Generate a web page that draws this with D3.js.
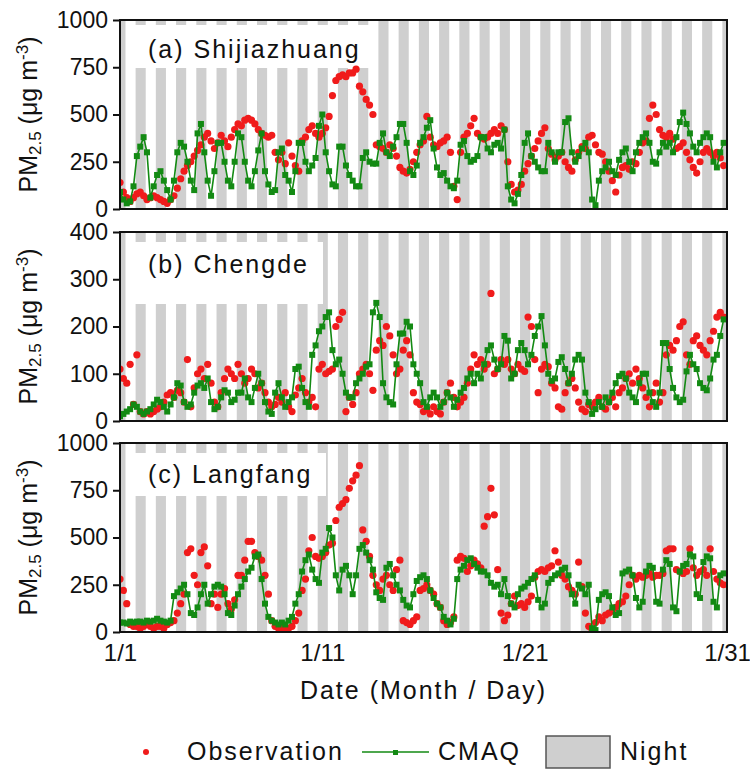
<!DOCTYPE html>
<html>
<head>
<meta charset="utf-8">
<script src="https://cdn.jsdelivr.net/npm/d3@7"></script>
<style>
  body { margin: 0; background: #fff; }
  text { font-family: Arial, "Liberation Sans", sans-serif; fill: #111; }
  .wide { font-size: 25px; letter-spacing: 2px; }
</style>
</head>
<body>
<div id="chart"></div>
<script>
// ---- data: 30 days of January, six readings per day (hours 0,4,8,12,16,20) ----
const hoursOfDay = [0, 4, 8, 12, 16, 20];
const nightStart = 18.5;   // local hour the night begins
const nightEnd = 6.5;      // local hour the night ends
const dateTicks = [0, 10, 20, 30];
const dateTickLabels = ["1/1", "1/11", "1/21", "1/31"];
const ticksShijiazhuang = [0, 250, 500, 750, 1000];
const ticksChengde = [0, 100, 200, 300, 400];
const ticksLangfang = [0, 250, 500, 750, 1000];

const obsShijiazhuang = [
  140, 90, 60, 40, 60, 80,   90, 70, 50, 60, 70, 60,   50, 40, 30, 50, 70, 110,
  160, 200, 230, 250, 280, 310,   340, 380, 400, 360, 320, 350,   390, 360, 330, 380, 420, 450,
  440, 470, 480, 470, 450, 420,   400, 390, 380, 390, 300, 260,   300, 240, 350, 280, 230, 200,
  360, 380, 420, 440, 400, 380,   400, 430, 490, 600, 680, 700,   710, 700, 720, 720, 740, 650,
  620, 580, 550, 500, 340, 330,   320, 300, 340, 320, 280, 220,   200, 190, 210, 250, 300, 340,
  360, 490, 380, 340, 330, 350,   360, 380, 300, 120, 50, 300,   380, 400, 440, 480, 400, 380,
  370, 380, 400, 420, 400, 440,   420, 250, 130, 90, 100, 130,   200, 240, 280, 320, 360, 400,
  430, 320, 290, 260, 280, 300,   250, 220, 200, 260, 300, 330,   320, 380, 390, 340, 300, 290,
  250, 200, 150, 90, 180, 220,   230, 210, 250, 240, 300, 350,   360, 480, 550, 500, 420, 390,
  380, 400, 370, 320, 330, 350,   300, 260, 220, 190, 250, 300,   320, 300, 280, 300, 270, 230
];
const cmaqShijiazhuang = [
  90, 50, 30, 40, 120, 280,   330, 380, 300, 60, 120, 180,   200, 150, 100, 50, 150, 300,
  350, 330, 250, 150, 100, 400,   450, 300, 150, 70, 200, 350,   350, 250, 150, 120, 250, 400,
  380, 250, 150, 120, 200, 310,   400, 200, 130, 90, 100, 300,   320, 180, 150, 90, 200, 350,
  350, 250, 200, 230, 270, 440,   500, 300, 200, 130, 120, 330,   330, 230, 180, 150, 120, 120,
  270, 300, 250, 240, 240, 350,   400, 300, 280, 330, 380, 450,   450, 350, 200, 180, 230, 350,
  380, 430, 470, 320, 220, 180,   190, 150, 120, 110, 150, 340,   360, 280, 250, 260, 280, 380,
  380, 320, 300, 340, 350, 320,   420, 120, 50, 30, 80, 180,   350, 400, 280, 250, 220, 200,
  200, 350, 300, 250, 300, 300,   460, 480, 300, 250, 280, 320,   350, 300, 50, 20, 150, 200,
  220, 250, 200, 180, 260, 300,   320, 250, 200, 300, 350, 380,   400, 350, 250, 240, 300, 350,
  330, 350, 300, 380, 460, 510,   450, 400, 330, 300, 350, 380,   400, 380, 250, 220, 300, 350
];
const obsChengde = [
  110, 90, 80, 120, 35, 140,   20, 15, 20, 15, 20, 25,   30, 40, 55, 60, 50, 65,
  60, 40, 130, 30, 70, 100,   110, 90, 120, 80, 40, 30,   60, 90, 110, 100, 90, 120,
  100, 80, 90, 110, 100, 70,   80, 60, 40, 30, 35, 50,   40, 60, 30, 20, 55, 70,
  90, 60, 40, 50, 30, 110,   120, 100, 105, 110, 200, 215,   230, 20, 50, 35, 60, 100,
  110, 120, 100, 65, 150, 170,   160, 200, 180, 140, 100, 110,   150, 170, 140, 60, 40, 35,
  20, 25, 15, 30, 20, 15,   40, 60, 80, 50, 30, 40,   50, 80, 110, 140, 120, 130,
  110, 120, 270, 100, 110, 130,   120, 130, 110, 100, 120, 110,   105, 220, 200, 130, 60, 110,
  120, 115, 80, 70, 30, 25,   60, 80, 90, 70, 40, 25,   20, 35, 30, 40, 50, 30,
  25, 40, 50, 30, 60, 70,   90, 100, 80, 110, 90, 70,   50, 30, 60, 80, 40, 60,
  140, 160, 150, 170, 200, 210,   140, 120, 170, 180, 160, 150,   140, 170, 190, 220, 230, 220
];
const cmaqChengde = [
  10, 15, 20, 25, 35, 30,   20, 15, 20, 25, 35, 45,   40, 30, 20, 35, 50, 80,
  75, 40, 30, 35, 60, 75,   80, 70, 90, 40, 25, 30,   50, 65, 60, 40, 45, 60,
  60, 90, 50, 40, 70, 100,   80, 40, 20, 15, 60, 80,   50, 30, 40, 50, 110, 115,
  70, 40, 30, 140, 160, 190,   200, 220, 230, 150, 120, 130,   100, 60, 50, 50, 80, 90,
  100, 115, 120, 230, 250, 220,   80, 50, 40, 35, 120, 185,   185, 210, 200, 120, 100, 80,
  40, 30, 50, 60, 50, 30,   40, 60, 50, 30, 45, 60,   70, 90, 100, 80, 100, 90,
  120, 150, 160, 130, 110, 120,   180, 170, 90, 100, 150, 165,   150, 120, 140, 180, 200, 222,
  160, 100, 85, 90, 125, 135,   110, 80, 100, 130, 140, 130,   60, 40, 15, 25, 40, 30,
  50, 40, 60, 80, 95, 100,   90, 60, 50, 40, 80, 100,   100, 60, 40, 30, 60, 165,
  165, 110, 70, 50, 40, 45,   105, 140, 120, 110, 80, 70,   65, 90, 130, 140, 180, 215
];
const obsLangfang = [
  280, 220, 150, 40, 30, 30,   20, 30, 40, 30, 20, 30,   30, 20, 40, 50, 60, 100,
  150, 200, 420, 440, 300, 250,   420, 450, 350, 150, 200, 130,   200, 230, 150, 120, 170, 300,
  300, 380, 480, 480, 420, 400,   380, 300, 200, 60, 30, 20,   20, 10, 20, 30, 60, 100,
  220, 280, 430, 500, 400, 390,   400, 420, 460, 470, 590, 660,   680, 700, 760, 800, 830, 880,
  540, 480, 400, 300, 250, 220,   280, 300, 250, 220, 330, 380,   60, 50, 40, 60, 80, 220,
  230, 250, 220, 200, 150, 130,   60, 40, 50, 80, 380, 400,   390, 320, 350, 380, 360, 340,
  560, 610, 760, 620, 330, 100,   60, 90, 150, 190, 140, 150,   130, 160, 190, 290, 320, 330,
  320, 340, 350, 430, 370, 300,   280, 240, 220, 200, 370, 240,   100, 30, 10, 50, 80, 60,
  90, 100, 110, 130, 150, 160,   190, 250, 300, 280, 300, 290,   300, 310, 290, 300, 300, 310,
  430, 440, 440, 330, 320, 310,   320, 440, 340, 300, 320, 330,   300, 440, 320, 280, 260, 250
];
const cmaqLangfang = [
  50, 50, 45, 55, 50, 55,   55, 50, 60, 55, 60, 70,   60, 55, 50, 60, 190, 210,
  230, 250, 200, 100, 90, 130,   200, 250, 150, 200, 240, 250,   240, 200, 100, 90, 140, 200,
  240, 280, 320, 340, 400, 410,   280, 150, 80, 60, 50, 40,   50, 40, 60, 80, 150, 200,
  320, 380, 410, 330, 280, 260,   420, 440, 550, 500, 300, 220,   330, 350, 300, 200, 300, 440,
  460, 420, 380, 330, 210, 180,   170, 340, 360, 300, 250, 220,   170, 140, 130, 200, 270, 290,
  300, 280, 220, 180, 150, 130,   80, 60, 40, 70, 280, 330,   350, 380, 390, 360, 340, 320,
  320, 300, 260, 240, 250, 200,   280, 190, 150, 130, 200, 230,   240, 260, 280, 300, 170, 130,
  150, 260, 280, 300, 310, 330,   340, 300, 200, 150, 250, 230,   200, 250, 20, 10, 170, 200,
  210, 190, 130, 90, 100, 310,   320, 330, 300, 180, 130, 160,   320, 350, 340, 160, 150, 330,
  380, 360, 130, 110, 320, 350,   360, 410, 400, 200, 180, 370,   400, 390, 160, 130, 300, 310
];

// ---- layout ----
const width = 750, height = 774;
const plotLeft = 120, plotRight = 727, plotHeight = 189;
const obsColor = "#f01b1b", cmaqColor = "#138a13", nightColor = "#cfcfcf";

const panels = [
  {label: "(a) Shijiazhuang", obs: obsShijiazhuang, cmaq: cmaqShijiazhuang, ticks: ticksShijiazhuang,
   top: 20, box: {x0: 131, y0: 25, x1: 372, y1: 68}, labelY: 58},
  {label: "(b) Chengde", obs: obsChengde, cmaq: cmaqChengde, ticks: ticksChengde,
   top: 232, box: {x0: 131, y0: 242, x1: 323, y1: 304}, labelY: 273},
  {label: "(c) Langfang", obs: obsLangfang, cmaq: cmaqLangfang, ticks: ticksLangfang,
   top: 443, box: {x0: 131, y0: 453, x1: 326, y1: 496}, labelY: 483}
];

const svg = d3.select("#chart").append("svg")
    .attr("width", width)
    .attr("height", height);

const x = d3.scaleLinear().domain([0, 30]).range([plotLeft, plotRight]);

// night intervals in day units
const nights = d3.range(-1, 30).map(d => [d + nightStart / 24, d + 1 + nightEnd / 24])
    .map(([a, b]) => [Math.max(a, 0), Math.min(b, 30)])
    .filter(([a, b]) => b > a);

const toPoints = arr => arr.map((v, i) => ({
    t: Math.floor(i / hoursOfDay.length) + hoursOfDay[i % hoursOfDay.length] / 24,
    v: v
}));

panels.forEach((p, k) => {
    const y = d3.scaleLinear()
        .domain([p.ticks[0], p.ticks[p.ticks.length - 1]])
        .range([p.top + plotHeight, p.top]);

    const g = svg.append("g").attr("class", "panel-" + k);

    const clipId = "clip" + k;
    g.append("clipPath").attr("id", clipId)
        .append("rect")
        .attr("x", plotLeft).attr("y", p.top)
        .attr("width", plotRight - plotLeft).attr("height", plotHeight);

    // night shading
    g.selectAll("rect.night")
        .data(nights)
        .join("rect")
        .attr("class", "night")
        .attr("x", d => x(d[0]))
        .attr("y", p.top)
        .attr("width", d => x(d[1]) - x(d[0]))
        .attr("height", plotHeight)
        .attr("fill", nightColor);

    // white box behind the site label
    g.append("rect")
        .attr("x", p.box.x0).attr("y", p.box.y0)
        .attr("width", p.box.x1 - p.box.x0).attr("height", p.box.y1 - p.box.y0)
        .attr("fill", "#fff");

    g.append("text")
        .attr("class", "wide")
        .attr("x", 148)
        .attr("y", p.labelY)
        .text(p.label);

    const data = g.append("g").attr("clip-path", "url(#" + clipId + ")");

    // observations
    data.selectAll("circle.obs")
        .data(toPoints(p.obs))
        .join("circle")
        .attr("class", "obs")
        .attr("cx", d => x(d.t))
        .attr("cy", d => y(d.v))
        .attr("r", 3.6)
        .attr("fill", obsColor);

    // CMAQ line with square markers
    const cmaqPts = toPoints(p.cmaq);
    data.append("path")
        .datum(cmaqPts)
        .attr("fill", "none")
        .attr("stroke", cmaqColor)
        .attr("stroke-width", 1.6)
        .attr("d", d3.line().x(d => x(d.t)).y(d => y(d.v)));

    data.selectAll("rect.cmaq")
        .data(cmaqPts)
        .join("rect")
        .attr("class", "cmaq")
        .attr("x", d => x(d.t) - 3)
        .attr("y", d => y(d.v) - 3)
        .attr("width", 6)
        .attr("height", 6)
        .attr("fill", cmaqColor);

    // frame
    g.append("rect")
        .attr("x", plotLeft).attr("y", p.top)
        .attr("width", plotRight - plotLeft).attr("height", plotHeight)
        .attr("fill", "none")
        .attr("stroke", "#111")
        .attr("stroke-width", 2);

    // y axis
    const yAxis = g.append("g")
        .attr("transform", "translate(" + plotLeft + ",0)")
        .call(d3.axisLeft(y).tickValues(p.ticks).tickFormat(d3.format("d"))
            .tickSize(7).tickPadding(5));
    yAxis.select(".domain").remove();
    yAxis.selectAll(".tick line").attr("stroke", "#111").attr("stroke-width", 2);
    yAxis.selectAll(".tick text")
        .attr("font-size", 23)
        .attr("font-family", "Arial, 'Liberation Sans', sans-serif")
        .attr("fill", "#111");

    // y axis title
    const title = g.append("text")
        .attr("transform", "translate(37," + (p.top + plotHeight / 2) + ") rotate(-90)")
        .attr("text-anchor", "middle")
        .attr("font-size", 25);
    title.append("tspan").text("PM");
    title.append("tspan").attr("font-size", 17).attr("baseline-shift", "-25%").text("2.5");
    title.append("tspan").text(" (μg m");
    title.append("tspan").attr("font-size", 17).attr("baseline-shift", "55%").text("-3");
    title.append("tspan").text(")");

    // dates under the last panel
    if (k === panels.length - 1) {
        const xAxis = g.append("g")
            .attr("transform", "translate(0," + (p.top + plotHeight) + ")")
            .call(d3.axisBottom(x).tickValues(dateTicks)
                .tickFormat((d, i) => dateTickLabels[i])
                .tickSize(0).tickPadding(12));
        xAxis.select(".domain").remove();
        xAxis.selectAll(".tick text")
            .attr("font-size", 24)
            .attr("font-family", "Arial, 'Liberation Sans', sans-serif")
            .attr("fill", "#111");
    }
});

svg.append("text")
    .attr("class", "wide")
    .attr("x", (plotLeft + plotRight) / 2)
    .attr("y", 699)
    .attr("text-anchor", "middle")
    .text("Date (Month / Day)");

// legend
const legend = svg.append("g").attr("class", "legend");
legend.append("circle").attr("cx", 146).attr("cy", 752).attr("r", 3).attr("fill", obsColor);
legend.append("text").attr("class", "wide").attr("x", 187).attr("y", 760).text("Observation");
legend.append("line")
    .attr("x1", 362).attr("x2", 429).attr("y1", 752).attr("y2", 752)
    .attr("stroke", cmaqColor).attr("stroke-width", 1.5);
legend.append("rect")
    .attr("x", 393).attr("y", 750).attr("width", 5).attr("height", 5)
    .attr("fill", cmaqColor);
legend.append("text").attr("class", "wide").attr("x", 438).attr("y", 760).text("CMAQ");
legend.append("rect")
    .attr("x", 546).attr("y", 736).attr("width", 64).attr("height", 32)
    .attr("fill", nightColor).attr("stroke", "#555").attr("stroke-width", 1.5);
legend.append("text").attr("class", "wide").attr("x", 620).attr("y", 760).text("Night");
</script>
</body>
</html>
